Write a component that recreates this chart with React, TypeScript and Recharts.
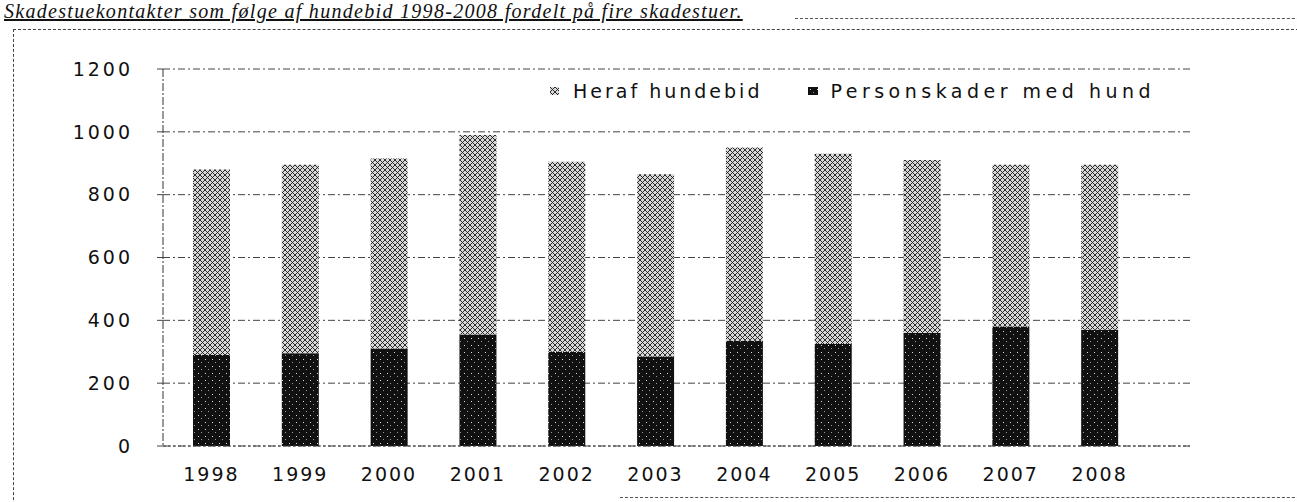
import React from 'react';
import { BarChart, Bar, XAxis, YAxis, CartesianGrid } from 'recharts';

const years = ['1998', '1999', '2000', '2001', '2002', '2003', '2004', '2005', '2006', '2007', '2008'];
const personskader = [290, 295, 310, 355, 300, 285, 335, 325, 360, 380, 370];
const hundebid = [590, 600, 605, 635, 605, 580, 615, 605, 550, 515, 525];
const yTicks = [0, 200, 400, 600, 800, 1000, 1200];

const data = years.map((year, i) => ({
  year,
  personskader: personskader[i],
  hundebid: hundebid[i],
}));

const FONT = '"DejaVu Sans", Verdana, sans-serif';

const Patterns = () => (
  <svg width={0} height={0} style={{ position: 'absolute' }}>
    <defs>
      <pattern id="lightFill" width="5" height="5" patternUnits="userSpaceOnUse">
        <rect width="5" height="5" fill="#d8d8d8" />
        <path d="M0,5 L5,0 M0,0 L5,5" stroke="#1a1a1a" strokeWidth="0.9" />
      </pattern>
      <pattern id="darkFill" width="7" height="7" patternUnits="userSpaceOnUse">
        <rect width="7" height="7" fill="#111" />
        <rect x="2" y="2" width="1" height="1" fill="#ddd" />
        <rect x="5" y="5" width="1" height="1" fill="#999" />
      </pattern>
    </defs>
  </svg>
);

// legend drawn outside the chart so it does not shift the plot area
const ChartLegend = () => (
  <div
    style={{
      position: 'absolute', left: 550, top: 80, display: 'flex', alignItems: 'center',
      fontFamily: FONT, fontSize: 19, letterSpacing: 3, color: '#111', whiteSpace: 'nowrap',
    }}
  >
    <svg width={9} height={8} style={{ marginRight: 14 }}><rect width={9} height={8} fill="url(#lightFill)" /></svg>
    <span style={{ marginRight: 46 }}>Heraf hundebid</span>
    <svg width={10} height={8} style={{ marginRight: 12 }}><rect width={10} height={8} fill="url(#darkFill)" /></svg>
    <span style={{ letterSpacing: 4.5 }}>Personskader med hund</span>
  </div>
);

export default function App() {
  return (
    <div style={{ position: 'absolute', left: 0, top: 0, width: 1297, height: 502, overflow: 'hidden', background: '#fff' }}>
      <Patterns />
      <div
        style={{
          position: 'absolute', left: 4, top: 0, fontFamily: '"Liberation Serif", serif', fontStyle: 'italic',
          fontSize: 20, lineHeight: '22px', textDecoration: 'underline', whiteSpace: 'nowrap', color: '#111',
          letterSpacing: 1.3,
        }}
      >
        Skadestuekontakter som følge af hundebid 1998-2008 fordelt på fire skadestuer.
      </div>
      <div style={{ position: 'absolute', left: 795, top: 18, width: 520, borderTop: '1px dashed #555' }} />
      <div style={{ position: 'absolute', left: 13, top: 29, width: 1300, height: 500, borderTop: '1px dashed #444', borderLeft: '1px dashed #444' }} />
      <div style={{ position: 'absolute', left: 620, top: 497, width: 700, borderTop: '1px dashed #555' }} />
      <BarChart
        width={1297}
        height={502}
        data={data}
        margin={{ top: 69, right: 107, bottom: 26, left: 63 }}
        style={{ position: 'absolute', left: 0, top: 0 }}
      >
        <CartesianGrid vertical={false} stroke="#444" strokeDasharray="7 3 2 3" />
        <XAxis
          dataKey="year"
          height={30}
          padding={{ left: 4, right: 46 }}
          tickLine={false}
          axisLine={{ stroke: '#444', strokeDasharray: '3 2' }}
          tick={{ fontFamily: FONT, fontSize: 19, fill: '#111', letterSpacing: 2 }}
          tickMargin={16}
        />
        <YAxis
          domain={[0, 1200]}
          ticks={yTicks}
          width={100}
          tickSize={6}
          tickMargin={24}
          tickLine={{ stroke: '#444' }}
          axisLine={{ stroke: '#333', strokeDasharray: '8 2 2 2' }}
          tick={{ fontFamily: FONT, fontSize: 19, fill: '#111', letterSpacing: 3 }}
        />
        <Bar dataKey="personskader" name="Personskader med hund" stackId="a" fill="url(#darkFill)" barSize={37} isAnimationActive={false} />
        <Bar dataKey="hundebid" name="Heraf hundebid" stackId="a" fill="url(#lightFill)" barSize={37} isAnimationActive={false} />
      </BarChart>
      <ChartLegend />
    </div>
  );
}
